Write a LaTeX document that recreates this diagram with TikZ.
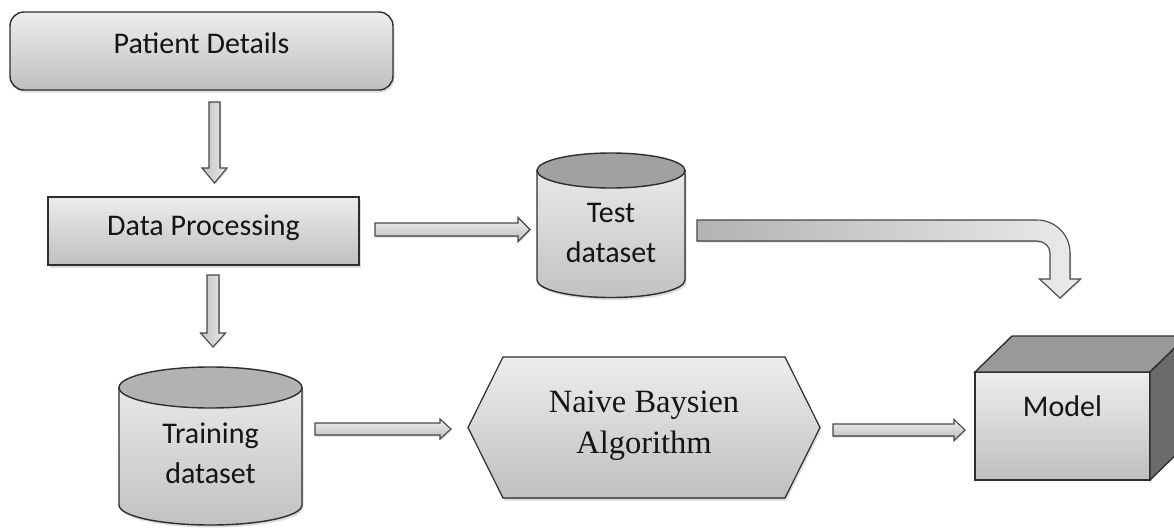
\documentclass[tikz,border=0pt]{standalone}
\usepackage{fontspec}
\setmainfont{Carlito}
\newfontfamily\serifnb{Liberation Serif}
\usetikzlibrary{calc,shadows,backgrounds}
\tikzset{
  boxshade/.style={top color=black!7, bottom color=black!25},
  cylbody/.style={top color=black!9, bottom color=black!24},
  outline/.style={draw=black!82, line width=1.4pt},
  shad/.style={drop shadow={opacity=0.28, shadow xshift=1.5pt, shadow yshift=-2.5pt}},
  lbl/.style={font=\fontsize{30}{40}\selectfont, text=black!92},
  nblbl/.style={font=\serifnb\fontsize{32.5}{41}\selectfont, text=black!92},
  barrow/.style={draw=black!72, line width=1.1pt, drop shadow={opacity=0.25, shadow xshift=1pt, shadow yshift=-1.5pt}},
  harrow/.style={barrow, top color=black!6, bottom color=black!26},
  varrow/.style={barrow, left color=black!24, right color=black!8},
  shapebox/.style={inner sep=0pt, outer sep=0pt},
}
\newcommand{\blkarrow}[6]{%
  \path ($(#3)!#6!(#2)$) coordinate (bah);
  \filldraw[#1] ($(#2)!#4!90:(#3)$) -- ($(bah)!#4!90:(#3)$) -- ($(bah)!#5!90:(#3)$) -- (#3) -- ($(bah)!#5!-90:(#3)$) -- ($(bah)!#4!-90:(#3)$) -- ($(#2)!#4!-90:(#3)$) -- cycle;
}
\begin{document}
\begin{tikzpicture}[x=1pt,y=-1pt]
\useasboundingbox (0,0) rectangle (1174,527);

% Patient Details
\node[shapebox, outline, boxshade, shad, rounded corners=14pt, lbl, minimum width=383pt, minimum height=78pt] (pd) at (201.5,51) {\raisebox{-2pt}[0pt][0pt]{Patient Details}};

% Data Processing
\node[shapebox, outline, boxshade, shad, lbl, minimum width=311pt, minimum height=68pt] (dp) at (203.5,231) {\raisebox{-4pt}[0pt][0pt]{Data Processing}};

% Test dataset cylinder
\filldraw[outline, cylbody, shad] (537,170.5) -- (537,280) arc[start angle=180, end angle=0, x radius=74, y radius=17.5] -- (685,170.5) -- cycle;
\filldraw[outline, fill=black!37] (611,170.5) ellipse [x radius=74, y radius=17.5];
\node[shapebox, lbl, minimum width=148pt, minimum height=144.5pt] (test) at (611,225) {\raisebox{-37pt}[0pt][0pt]{\begin{tabular}[b]{@{}c@{}}Test\\dataset\end{tabular}}};

% Training dataset cylinder
\filldraw[outline, cylbody, shad] (119,387.5) -- (119,505) arc[start angle=180, end angle=0, x radius=91.5, y radius=20] -- (302,387.5) -- cycle;
\filldraw[outline, fill=black!30] (210.5,387.5) ellipse [x radius=91.5, y radius=20.5];
\node[shapebox, lbl, minimum width=183pt, minimum height=158pt] (train) at (210.5,446) {\raisebox{-37pt}[0pt][0pt]{\begin{tabular}[b]{@{}c@{}}Training\\dataset\end{tabular}}};

% Naive Baysien hexagon
\node[shapebox, nblbl, minimum width=352pt, minimum height=141pt] (nb) at (644,427.5) {\raisebox{-25.5pt}[0pt][0pt]{\begin{tabular}[b]{@{}c@{}}Naive Baysien\\Algorithm\end{tabular}}};
\begin{pgfonlayer}{background}
\filldraw[outline, line width=1.2pt, boxshade, shad] (nb.west) -- ($(nb.north west)+(35,0)$) -- ($(nb.north east)+(-35,0)$) -- (nb.east) -- ($(nb.south east)+(-35,0)$) -- ($(nb.south west)+(35,0)$) -- cycle;
\end{pgfonlayer}

% Model cube
\node[shapebox, outline, boxshade, lbl, minimum width=175pt, minimum height=108pt] (model) at (1062.5,426) {\raisebox{10pt}[0pt][0pt]{Model}};
\filldraw[outline, fill=black!40] (model.north west) -- ++(37,-36) -- ++(175,0) -- (model.north east) -- cycle;
\filldraw[outline, fill=black!58] (model.north east) -- ++(37,-36) -- ++(0,108) -- (model.south east) -- cycle;

% straight block arrows
\coordinate (a1s) at ($(pd.south)+(13,12)$);
\coordinate (a1e) at ($(dp.north)+(11,-14)$);
\blkarrow{varrow}{a1s}{a1e}{5.5pt}{12.5pt}{15pt}

\coordinate (a2s) at ($(dp.south)+(9.5,10)$);
\coordinate (a2e) at ($(train.north)+(2.5,-20)$);
\blkarrow{varrow}{a2s}{a2e}{6pt}{12.5pt}{14pt}

\coordinate (a3s) at ($(dp.east)+(16,-1.5)$);
\coordinate (a3e) at ($(test.west)+(-7,4.5)$);
\blkarrow{harrow}{a3s}{a3e}{6.5pt}{12pt}{12pt}

\coordinate (a4s) at ($(train.east)+(13,-17)$);
\coordinate (a4e) at ($(nb.west)+(-17,1.5)$);
\blkarrow{harrow}{a4s}{a4e}{6pt}{10pt}{11pt}

\coordinate (a5s) at ($(nb.east)+(13,2.5)$);
\coordinate (a5e) at ($(model.west)+(-10,4)$);
\blkarrow{harrow}{a5s}{a5e}{6pt}{10.5pt}{11pt}

% bent arrow from Test dataset to Model
\coordinate (bs) at ($(test.east)+(12,5.5)$);
\coordinate (be) at ($(model.north)+(-2.5,-74)$);
\filldraw[barrow, left color=black!30, right color=black!8]
  ($(bs)+(0,-10.5)$) -- ($(be)+(-23,-78)$)
  .. controls ($(be)+(-4.8,-78)$) and ($(be)+(10,-63.2)$) .. ($(be)+(10,-45)$)
  -- ($(be)+(10,-19)$) -- ($(be)+(20.5,-19)$) -- (be) -- ($(be)+(-20.5,-19)$) -- ($(be)+(-10,-19)$) -- ($(be)+(-10,-45)$)
  .. controls ($(be)+(-10,-51.6)$) and ($(be)+(-15.8,-57)$) .. ($(be)+(-23,-57)$)
  -- ($(bs)+(0,10.5)$) -- cycle;
\end{tikzpicture}
\end{document}
